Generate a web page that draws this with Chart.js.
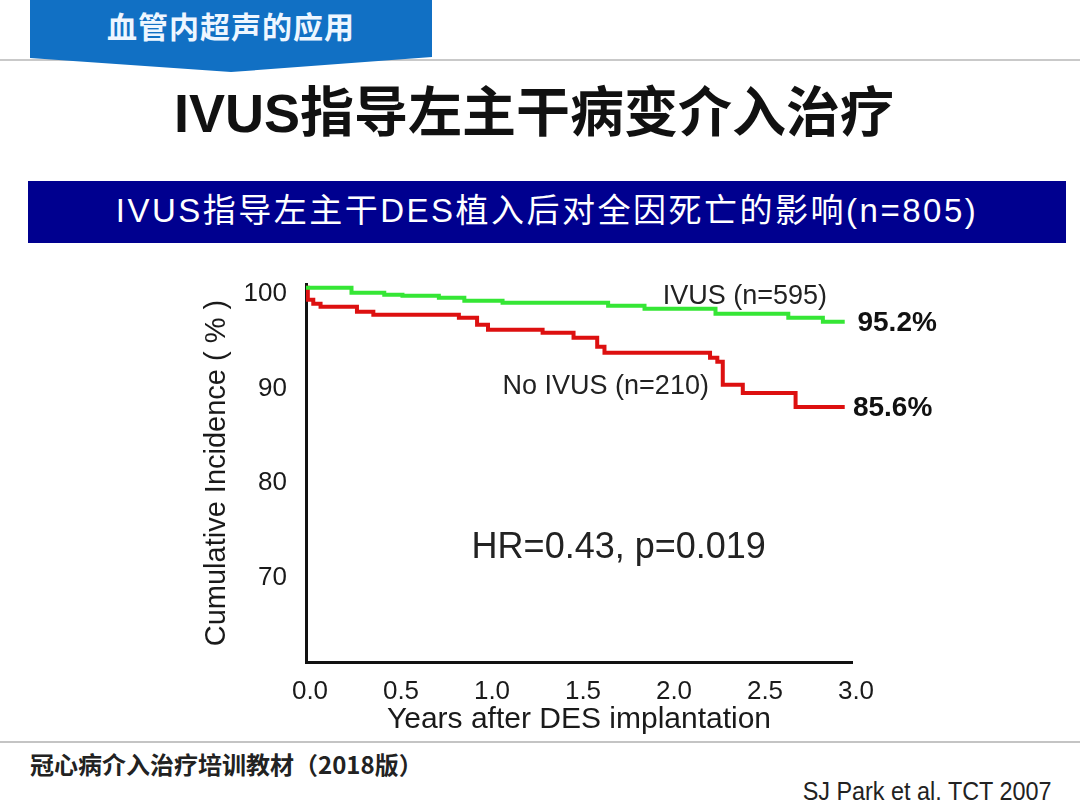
<!DOCTYPE html>
<html>
<head>
<meta charset="utf-8">
<script src="https://cdn.jsdelivr.net/npm/chart.js@4.4.1/dist/chart.umd.min.js"></script>
<style>
  html, body { margin: 0; padding: 0; background: #fff; }
  body { width: 1080px; height: 810px; position: relative; overflow: hidden;
         font-family: "Liberation Sans", Arial, "Noto Sans CJK SC", sans-serif; }
  .topline { position: absolute; left: 0; top: 59px; width: 1080px; height: 2px; background: #c9c9c9; }
  .tab { position: absolute; left: 30px; top: 0; width: 402px; height: 72px; background: #1170c4;
         clip-path: polygon(0 0, 100% 0, 100% 57px, 50% 72px, 0 58px); }
  .tab span { position: absolute; left: 0; width: 100%; top: 6px; text-align: center; color: #eef6ff;
              font-family: "Noto Sans CJK SC", sans-serif; font-weight: 700; font-size: 30px; line-height: 38px; letter-spacing: 1px; }
  .title { position: absolute; left: 0; width: 1068px; top: 79px; text-align: center; color: #111;
           font-family: "Liberation Sans", "Noto Sans CJK SC", sans-serif; font-weight: 700; font-size: 54px; line-height: 68px; }
  .banner { position: absolute; left: 28px; top: 181px; width: 1038px; height: 62px; background: #00008f; }
  .banner span { position: absolute; left: 0; width: 100%; top: 10px; text-align: center; color: #fff;
                 font-family: "Liberation Sans", "Noto Sans CJK SC", sans-serif; font-size: 33px; line-height: 40px; letter-spacing: 2.5px; }
  .chartbox { position: absolute; left: 190px; top: 268px; width: 780px; height: 472px; }
  .botline { position: absolute; left: 0; top: 741px; width: 1080px; height: 2px; background: #c4c4c4; }
  .footer { position: absolute; left: 30px; top: 748px; color: #222; font-family: "Noto Sans CJK SC", sans-serif;
            font-weight: 700; font-size: 24px; line-height: 32px; }
  .cite { position: absolute; right: 28px; top: 776px; color: #222; transform: scaleX(0.9); transform-origin: right center;
          font-family: "Liberation Sans", Arial, sans-serif; font-size: 26px; line-height: 30px; }
</style>
</head>
<body>
<div class="topline"></div>
<div class="tab"><span>血管内超声的应用</span></div>
<div class="title">IVUS指导左主干病变介入治疗</div>
<div class="banner"><span>IVUS指导左主干DES植入后对全因死亡的影响(n=805)</span></div>
<div class="chartbox"><canvas id="kmChart" width="780" height="472"></canvas></div>
<div class="botline"></div>
<div class="footer">冠心病介入治疗培训教材（2018版）</div>
<div class="cite">SJ Park et al. TCT 2007</div>

<script>
// values (years after implantation, % event-free)
const ivusYears = [0, 0.25, 0.43, 0.53, 0.73, 0.87, 1.08, 1.66, 1.86, 2.25, 2.65, 2.84, 2.96];
const ivusPct   = [100, 99.47, 99.26, 99.16, 98.94, 98.63, 98.42, 98.10, 97.78, 97.25, 96.83, 96.41, 96.41];

const noIvusYears = [0, 0.01, 0.04, 0.08, 0.28, 0.37, 0.84, 0.94, 1.00, 1.30, 1.47, 1.60, 1.64, 2.22, 2.26, 2.29, 2.40, 2.69, 2.96];
const noIvusPct   = [100, 98.73, 98.31, 97.99, 97.47, 97.15, 96.83, 96.09, 95.57, 95.25, 94.72, 93.77, 93.14, 92.61, 92.20, 89.76, 88.91, 87.43, 87.43];

const xTicks = [0, 0.5, 1.0, 1.5, 2.0, 2.5, 3.0];
const xTickLabels = ['0.0', '0.5', '1.0', '1.5', '2.0', '2.5', '3.0'];
const yTicks = [70, 80, 90, 100];
const yTickLabels = ['70', '80', '90', '100'];

function toPoints(xs, ys) {
  return xs.map((x, i) => ({ x: x, y: ys[i] }));
}

// text labels inside the plot, anchored in data units
const notes = [
  { text: 'IVUS (n=595)', x: 1.96, y: 99.05, font: '27px "Liberation Sans", Arial', color: '#222' },
  { text: '95.2%', x: 3.03, y: 96.30, font: 'bold 28px "Liberation Sans", Arial', color: '#111' },
  { text: 'No IVUS (n=210)', x: 1.08, y: 89.55, font: '27px "Liberation Sans", Arial', color: '#222' },
  { text: '85.6%', x: 3.005, y: 87.33, font: 'bold 28px "Liberation Sans", Arial', color: '#111' },
  { text: 'HR=0.43, p=0.019', x: 0.91, y: 72.54, font: '36px "Liberation Sans", Arial', color: '#222' }
];

const notePlugin = {
  id: 'notes',
  afterDraw(chart) {
    const ctx = chart.ctx;
    const xs = chart.scales.x, ys = chart.scales.y;
    ctx.save();
    ctx.textAlign = 'left';
    ctx.textBaseline = 'middle';
    notes.forEach(n => {
      ctx.font = n.font;
      ctx.fillStyle = n.color;
      ctx.fillText(n.text, xs.getPixelForValue(n.x), ys.getPixelForValue(n.y));
    });
    ctx.restore();
  }
};

const ctx = document.getElementById('kmChart').getContext('2d');
new Chart(ctx, {
  type: 'line',
  data: {
    datasets: [{
      label: 'IVUS (n=595)',
      data: toPoints(ivusYears, ivusPct),
      borderColor: '#35e635',
      borderWidth: 4,
      stepped: true,
      pointRadius: 0,
      fill: false
    }, {
      label: 'No IVUS (n=210)',
      data: toPoints(noIvusYears, noIvusPct),
      borderColor: '#dd1010',
      borderWidth: 4,
      stepped: true,
      pointRadius: 0,
      fill: false
    }]
  },
  options: {
    responsive: false,
    animation: false,
    layout: { padding: { top: 16, right: 118, bottom: 0, left: 0 } },
    plugins: { legend: { display: false }, tooltip: { enabled: false } },
    scales: {
      x: {
        type: 'linear',
        min: 0,
        max: 3,
        afterBuildTicks: s => { s.ticks = xTicks.map(v => ({ value: v })); },
        afterFit: s => { s.height = 78; s.paddingLeft = 0; s.paddingRight = 0; },
        grid: { display: false, drawTicks: false },
        border: { display: true, color: '#111', width: 3 },
        ticks: {
          padding: 14,
          labelOffset: 4,
          color: '#1a1a1a',
          font: { family: '"Liberation Sans", Arial', size: 26 },
          maxRotation: 0,
          callback: v => xTickLabels[xTicks.indexOf(v)]
        },
        title: {
          display: true,
          text: 'Years after DES implantation',
          color: '#1a1a1a',
          font: { family: '"Liberation Sans", Arial', size: 30 },
          padding: { top: 0, bottom: 2 }
        }
      },
      y: {
        min: 60.51,
        max: 100.4,
        afterBuildTicks: s => { s.ticks = yTicks.map(v => ({ value: v })); },
        afterFit: s => { s.width = 116; s.paddingTop = 0; s.paddingBottom = 0; },
        grid: { display: false, drawTicks: false },
        border: { display: true, color: '#111', width: 3 },
        ticks: {
          padding: 19,
          labelOffset: 6,
          color: '#1a1a1a',
          font: { family: '"Liberation Sans", Arial', size: 26 },
          callback: v => yTickLabels[yTicks.indexOf(v)]
        },
        title: {
          display: true,
          text: 'Cumulative Incidence ( % )',
          color: '#1a1a1a',
          font: { family: '"Liberation Sans", Arial', size: 29 },
          padding: { top: 10, bottom: 0 }
        }
      }
    }
  },
  plugins: [notePlugin]
});
</script>
</body>
</html>
